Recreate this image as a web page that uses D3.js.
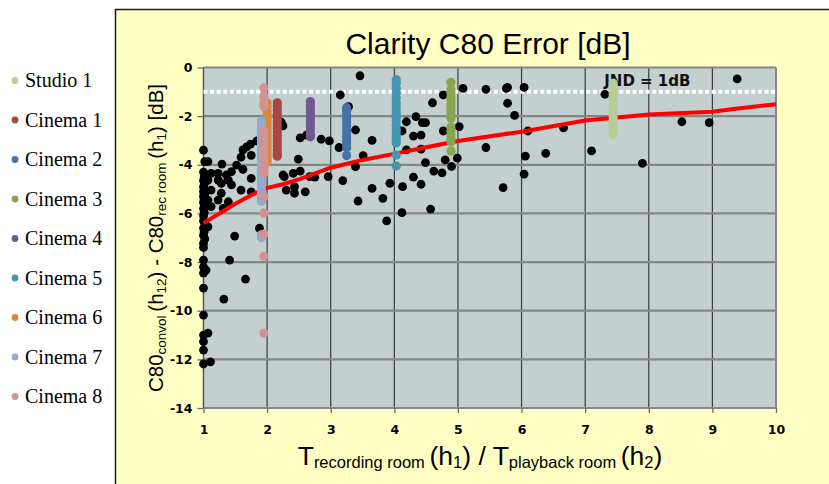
<!DOCTYPE html>
<html>
<head>
<meta charset="utf-8">
<script src="https://cdn.jsdelivr.net/npm/d3@7"></script>
<style>
  body { margin: 0; background: #ffffff; }
  svg { display: block; }
</style>
</head>
<body>
<script>
// ---- data ----
const xTicks = [1, 2, 3, 4, 5, 6, 7, 8, 9, 10];
const yTicks = [0, -2, -4, -6, -8, -10, -12, -14];

const seriesNames = ["Studio 1", "Cinema 1", "Cinema 2", "Cinema 3", "Cinema 4",
                     "Cinema 5", "Cinema 6", "Cinema 7", "Cinema 8"];
const seriesColors = ["#b9cd96", "#aa4643", "#4572a7", "#89a54e", "#71588f",
                      "#4198af", "#db843d", "#93a9cf", "#d19392"];
// reverberation-time ratio of each measured room pair
const seriesX = [7.44, 2.16, 3.25, 4.89, 2.68, 4.03, 2.0, 1.91, 1.95];

const studio1 = [-0.65, -0.8, -0.95, -1.1, -1.25, -1.4, -1.55, -1.7, -1.85, -2.0, -2.15, -2.3, -2.45, -2.6, -2.75];
const cinema1 = [-1.45, -1.6, -1.75, -1.9, -2.05, -2.2, -2.35, -2.5, -2.65, -2.8, -2.95, -3.1, -3.25, -3.4, -3.55, -3.65];
const cinema2 = [-1.65, -1.8, -1.95, -2.1, -2.25, -2.4, -2.55, -2.7, -2.85, -3.0, -3.15, -3.3, -3.62];
const cinema3 = [-0.61, -0.9, -1.05, -1.2, -1.35, -1.5, -1.65, -1.8, -1.95, -2.08, -2.45, -2.6, -2.75, -2.9, -3.05, -3.43];
const cinema4 = [-1.4, -1.55, -1.7, -1.85, -2.0, -2.15, -2.3, -2.45, -2.6, -2.75, -2.85];
const cinema5 = [-0.5, -0.65, -0.85, -1.05, -1.25, -1.45, -1.6, -1.75, -1.9, -2.05, -2.2, -2.4, -2.55, -2.7, -2.85, -3.0, -3.1, -3.6, -4.05];
const cinema6 = [-1.45, -1.6, -1.8, -1.95, -2.1, -2.25, -2.4, -2.55, -2.7, -2.85, -3.0, -3.15, -3.3, -3.45, -3.6, -3.75, -3.9];
const cinema7 = [-2.2, -2.35, -2.5, -2.65, -2.8, -2.95, -3.1, -3.25, -3.4, -3.55, -3.7, -3.85, -4.0, -4.15, -4.3, -4.45, -4.6, -4.75, -4.9, -5.05, -5.2, -5.35, -5.5, -6.88, -7.0];
const cinema8 = [-0.84, -1.18, -1.44, -1.6, -2.6, -2.75, -2.9, -3.05, -3.2, -3.35, -3.5, -3.65, -3.8, -3.95, -4.1, -4.25, -4.35, -5.31, -5.98, -6.85, -7.76, -10.92];
const seriesValues = [studio1, cinema1, cinema2, cinema3, cinema4, cinema5, cinema6, cinema7, cinema8];

// all other room pairs (ratio, C80 error)
const pairsX = [
  1.0, 1.02, 1.0, 1.01, 1.0, 1.02, 1.0, 1.01, 1.0, 1.02, 1.0, 1.01, 1.0, 1.02, 1.0, 1.01, 1.0, 1.0, 1.02, 1.0,
  1.01, 1.0, 1.02, 1.0, 1.0, 1.0, 1.04, 1.0, 1.0, 1.0, 1.0, 1.07, 1.0, 1.0, 1.0, 1.11, 1.0,
  1.07, 1.29, 1.74, 1.62, 1.75, 1.59, 1.52, 1.62, 1.44, 1.36, 1.23, 1.12, 1.07, 1.23, 1.39, 1.44, 1.28, 1.59,
  1.75, 1.75, 1.12, 1.28, 1.07, 1.23, 1.39, 1.31, 1.12, 1.07, 1.49, 1.88, 1.41, 1.66, 1.32, 1.84, 1.68,
  2.25, 2.41, 2.30, 2.43, 2.22, 2.25,
  3.46, 3.15, 3.28, 2.62, 2.52, 2.85, 2.98, 3.39, 3.65, 3.13, 3.51, 2.49, 3.39, 2.27, 2.52, 2.67, 2.75, 2.96,
  2.43, 2.60, 3.19, 3.65, 3.82, 3.43, 3.93, 4.13, 4.30, 4.42, 4.57, 4.12, 3.88, 4.19, 4.12, 4.34, 4.44, 4.49,
  4.30, 4.42, 4.60, 4.77, 4.77, 4.49, 4.62, 4.75, 4.90, 4.80, 4.99, 5.02, 4.19, 4.42,
  5.08, 5.44, 5.76, 5.78, 6.04, 5.78, 5.89, 5.44, 5.71, 6.06, 6.04, 6.10, 6.38, 6.66, 7.10, 7.31, 7.90, 8.52,
  8.95, 9.39
];
const pairsY = [
  -3.4, -3.87, -4.3, -4.5, -4.65, -4.75, -4.9, -5.0, -5.1, -5.2, -5.3, -5.45, -5.55, -5.65, -5.8, -5.95, -6.1, -6.3, -6.4, -6.6,
  -6.75, -6.9, -7.05, -7.23, -7.4, -7.92, -8.33, -8.2, -8.45, -9.07, -10.18, -10.92, -11.0, -11.27, -11.62, -12.1, -12.19,
  -3.87, -3.97, -3.15, -3.39, -3.61, -3.69, -4.01, -4.19, -4.28, -4.42, -4.35, -4.35, -4.63, -4.63, -4.63, -4.83, -4.76, -5.04,
  -5.11, -4.56, -5.04, -5.17, -5.45, -5.45, -5.52, -5.79, -5.72, -6.55, -6.93, -6.61, -7.92, -8.70, -9.52, -3.02, -3.26,
  -4.42, -4.35, -5.04, -4.90, -2.25, -2.4,
  -0.34, -1.13, -1.61, -2.78, -2.89, -2.95, -3.02, -2.57, -3.0, -3.29, -3.62, -3.77, -4.08, -4.49, -4.26, -4.49, -4.51, -4.49,
  -5.17, -5.11, -4.65, -4.97, -5.38, -5.49, -4.76, -4.90, -4.51, -4.80, -5.82, -5.97, -6.31, -2.23, -2.61, -2.02, -2.27, -2.27,
  -2.82, -2.78, -1.45, -1.13, -2.61, -3.91, -4.26, -4.33, -4.07, -3.80, -3.73, -2.43, -3.39, -3.36,
  -0.86, -0.90, -0.86, -0.82, -0.82, -1.47, -1.97, -3.29, -4.94, -3.64, -4.38, -2.61, -3.53, -2.48, -3.43, -1.10, -3.94, -2.23,
  -2.27, -0.47
];

// fitted trend of the error against the ratio
const trendX = [1, 1.25, 1.5, 1.75, 2, 2.25, 2.5, 3, 3.5, 4, 4.5, 5, 6, 7, 8, 9, 9.3, 10];
const trendY = [-6.4, -6.0, -5.6, -5.25, -4.95, -4.8, -4.6, -4.12, -3.8, -3.55, -3.28, -3.02, -2.64, -2.18, -1.93, -1.82, -1.72, -1.51];

const jndLevel = -1;

// ---- drawing ----
const W = 829, H = 484;
const narrow = "'Liberation Sans Narrow', 'Arial Narrow', 'Liberation Sans', sans-serif";

const svg = d3.select("body").append("svg")
  .attr("width", W).attr("height", H);

// chart panel
svg.append("rect")
  .attr("x", 115.5).attr("y", 9.5)
  .attr("width", W).attr("height", H)
  .attr("fill", "#ffffc3")
  .attr("stroke", "#1a1a1a").attr("stroke-width", 1.5);

const x = d3.scaleLinear().domain([1, 10]).range([203.5, 776]);
const y = d3.scaleLinear().domain([-14, 0]).range([408, 67.5]);

// plot area
svg.append("rect")
  .attr("x", x(1)).attr("y", y(0))
  .attr("width", x(10) - x(1)).attr("height", y(-14) - y(0))
  .attr("fill", "#c4cfcf");

// vertical grid
svg.append("g").selectAll("line")
  .data(xTicks.filter(d => d > 1 && d < 10))
  .join("line")
  .attr("x1", d => x(d)).attr("x2", d => x(d))
  .attr("y1", y(0)).attr("y2", y(-14))
  .attr("stroke", "#3c3c3c").attr("stroke-width", 1.2);

// horizontal grid
svg.append("g").selectAll("line")
  .data(yTicks)
  .join("line")
  .attr("x1", x(1)).attr("x2", x(10))
  .attr("y1", d => y(d)).attr("y2", d => y(d))
  .attr("stroke", "#868686").attr("stroke-width", 2.2);

// right edge and left axis line
svg.append("line")
  .attr("x1", x(10)).attr("x2", x(10)).attr("y1", y(0)).attr("y2", y(-14))
  .attr("stroke", "#868686").attr("stroke-width", 2);
svg.append("line")
  .attr("x1", x(1)).attr("x2", x(1)).attr("y1", y(0)).attr("y2", y(-14))
  .attr("stroke", "#555").attr("stroke-width", 1.5);

// axes
const yAxis = svg.append("g")
  .attr("transform", `translate(${x(1)},0)`)
  .call(d3.axisLeft(y).tickValues(yTicks).tickSize(6).tickPadding(5).tickFormat(d => String(d)));
const xAxis = svg.append("g")
  .attr("transform", `translate(0,${y(-14)})`)
  .call(d3.axisBottom(x).tickValues(xTicks).tickSize(5).tickPadding(12).tickFormat(d => String(d)));
[yAxis, xAxis].forEach(g => {
  g.select(".domain").remove();
  g.selectAll(".tick line").attr("stroke", "#6e6e6e").attr("stroke-width", 1.3);
  g.selectAll(".tick text")
    .attr("fill", "#000")
    .style("font-family", "'DejaVu Sans', Verdana, sans-serif")
    .style("font-weight", "bold")
    .style("font-size", "12.5px");
});

// just-noticeable-difference threshold
svg.append("line")
  .attr("x1", x(1)).attr("x2", x(10))
  .attr("y1", y(jndLevel)).attr("y2", y(jndLevel))
  .attr("stroke", "#ffffff").attr("stroke-width", 4)
  .attr("stroke-dasharray", "4,2.6");
svg.append("text")
  .attr("x", x(7.3)).attr("y", 86)
  .style("font-family", "'DejaVu Sans', Verdana, sans-serif")
  .style("font-size", "15px")
  .style("font-weight", "bold")
  .attr("fill", "#111")
  .text("JND = 1dB");

// all room pairs
svg.append("g").selectAll("circle")
  .data(pairsX.map((v, i) => [v, pairsY[i]]))
  .join("circle")
  .attr("cx", d => x(d[0])).attr("cy", d => y(d[1]))
  .attr("r", 4.4).attr("fill", "#000");

// trend line
svg.append("path")
  .datum(trendX.map((v, i) => [v, trendY[i]]))
  .attr("d", d3.line().x(d => x(d[0])).y(d => y(d[1])))
  .attr("fill", "none").attr("stroke", "#ff0000").attr("stroke-width", 4)
  .attr("stroke-linejoin", "round");

// highlighted rooms
seriesValues.forEach((vals, s) => {
  svg.append("g").selectAll("circle")
    .data(vals)
    .join("circle")
    .attr("cx", x(seriesX[s])).attr("cy", d => y(d))
    .attr("r", 4.6).attr("fill", seriesColors[s]);
});

// title
svg.append("text")
  .attr("x", 488).attr("y", 54)
  .attr("text-anchor", "middle")
  .style("font-family", narrow)
  .style("font-size", "30px")
  .attr("fill", "#000")
  .text("Clarity C80 Error [dB]");

// axis titles with subscripts
function richText(g, parts) {
  parts.forEach(p => {
    g.append("tspan")
      .attr("font-size", p.size + "px")
      .attr("dy", p.dy || 0)
      .text(p.t);
  });
}
const big = 26.5, small = 16.5;
const xTitle = svg.append("text")
  .attr("x", 480).attr("y", 465)
  .attr("text-anchor", "middle")
  .style("font-family", narrow)
  .attr("fill", "#000");
richText(xTitle, [
  { t: "T", size: big },
  { t: "recording room ", size: small, dy: 3 },
  { t: "(h", size: big, dy: -3 },
  { t: "1", size: small, dy: 3 },
  { t: ") / T", size: big, dy: -3 },
  { t: "playback room ", size: small, dy: 3 },
  { t: "(h", size: big, dy: -3 },
  { t: "2", size: small, dy: 3 },
  { t: ")", size: big, dy: -3 }
]);

const yBig = 20.5, ySmall = 13.5;
const yTitle = svg.append("text")
  .attr("transform", "translate(163,238) rotate(-90)")
  .attr("text-anchor", "middle")
  .style("font-family", narrow)
  .attr("fill", "#000");
richText(yTitle, [
  { t: "C80", size: yBig },
  { t: "convol ", size: ySmall, dy: 3 },
  { t: "(h", size: yBig, dy: -3 },
  { t: "12", size: ySmall, dy: 3 },
  { t: ") - C80", size: yBig, dy: -3 },
  { t: "rec room ", size: ySmall, dy: 3 },
  { t: "(h", size: yBig, dy: -3 },
  { t: "1", size: ySmall, dy: 3 },
  { t: ") [dB]", size: yBig, dy: -3 }
]);

// legend
const legend = svg.append("g");
seriesNames.forEach((name, i) => {
  const cy = 80.5 + i * 39.5;
  legend.append("circle")
    .attr("cx", 15).attr("cy", cy).attr("r", 3.4)
    .attr("fill", seriesColors[i]);
  legend.append("text")
    .attr("x", 25).attr("y", cy + 6.5)
    .style("font-family", "'Liberation Serif', 'Times New Roman', serif")
    .style("font-size", "20px")
    .attr("fill", "#000")
    .text(name);
});
</script>
</body>
</html>
